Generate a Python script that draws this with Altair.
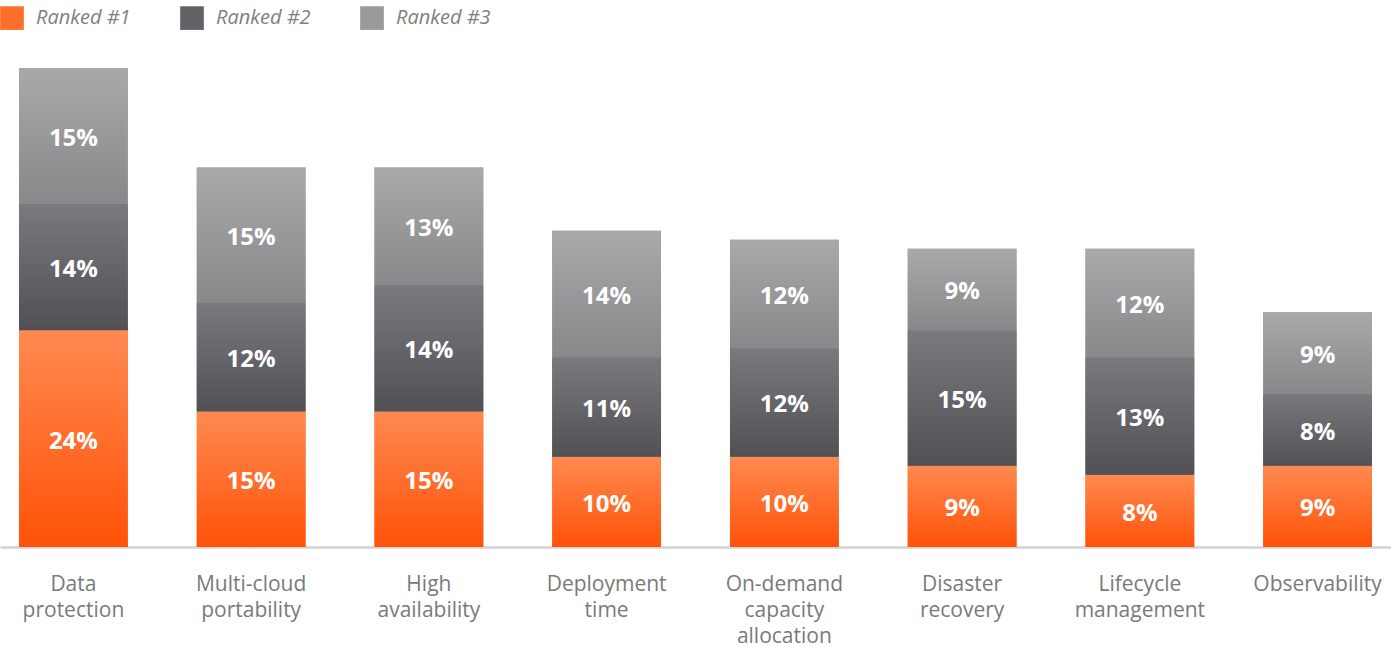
import altair as alt
import pandas as pd

categories = [
    "Data\nprotection", "Multi-cloud\nportability", "High\navailability",
    "Deployment\ntime", "On-demand\ncapacity\nallocation", "Disaster\nrecovery",
    "Lifecycle\nmanagement", "Observability",
]
ranks = ["Ranked #1", "Ranked #2", "Ranked #3"]
ranked1 = [24, 15, 15, 10, 10, 9, 8, 9]
ranked2 = [14, 12, 14, 11, 12, 15, 13, 8]
ranked3 = [15, 15, 13, 14, 12, 9, 12, 9]

solid = ["#ff6f2c", "#626267", "#9a9a9c"]
grad_top = ["#ff8a50", "#7a7a7e", "#a9a9ab"]
grad_bot = ["#ff5208", "#505055", "#88888a"]

rows = []
for i, c in enumerate(categories):
    for r, vals in enumerate([ranked1, ranked2, ranked3]):
        rows.append({"category": c, "rank": ranks[r], "order": r, "value": vals[i]})
df = pd.DataFrame(rows)

FONT = "Open Sans"

base = alt.Chart(df).transform_stack(
    stack="value", groupby=["category"], as_=["y0", "y1"],
    sort=[alt.SortField("order", order="ascending")],
).transform_calculate(
    mid="(datum.y0 + datum.y1) / 2", label="datum.value + '%'"
)

xenc = alt.X(
    "category:N", sort=categories, title=None,
    scale=alt.Scale(paddingInner=0.388, paddingOuter=0.107),
    axis=alt.Axis(
        labelExpr="split(datum.label, '\\n')", labelAngle=0,
        labelFont=FONT, labelFontSize=21, labelColor="#7a7a7a",
        labelLineHeight=26, labelPadding=26, ticks=False,
        domainColor="#d2d2d2", domainWidth=2.5, labelAlign="center",
    ),
)
yscale = alt.Scale(domain=[0, 55], nice=False, zero=True)

legend_layer = base.mark_bar().encode(
    x=xenc,
    y=alt.Y("y0:Q", scale=yscale, axis=None),
    y2="y1:Q",
    color=alt.Color(
        "rank:N", scale=alt.Scale(domain=ranks, range=solid),
        legend=alt.Legend(
            title=None, orient="none", legendX=0, legendY=-44,
            direction="horizontal", symbolType="square", symbolSize=560,
            symbolStrokeWidth=0, labelFont=FONT, labelFontSize=20,
            labelFontStyle="italic", labelColor="#808080", labelOffset=12,
            columnPadding=49, gridAlign="all",
        ),
    ),
)

layers = [legend_layer]
for r in range(3):
    g = alt.LinearGradient(
        gradient="linear", x1=0, x2=0, y1=0, y2=1,
        stops=[alt.GradientStop(color=grad_top[r], offset=0),
               alt.GradientStop(color=grad_bot[r], offset=1)],
    )
    layers.append(
        base.transform_filter(alt.datum.order == r).mark_bar(color=g).encode(
            x=alt.X("category:N", sort=categories),
            y=alt.Y("y0:Q", scale=yscale),
            y2="y1:Q",
        )
    )

text = base.mark_text(
    color="white", font=FONT, fontWeight="bold", fontSize=24,
    baseline="middle", dy=3,
).encode(
    x=alt.X("category:N", sort=categories),
    y=alt.Y("mid:Q", scale=yscale),
    text="label:N",
)
layers.append(text)

chart = alt.layer(*layers).properties(
    width=1391, height=497,
    padding={"left": 0, "right": 0, "top": 50, "bottom": 100},
    autosize=alt.AutoSizeParams(type="none"),
    background="white",
).configure_view(stroke=None)

chart.save("out.html", embed_options={"renderer": "svg", "actions": False})
